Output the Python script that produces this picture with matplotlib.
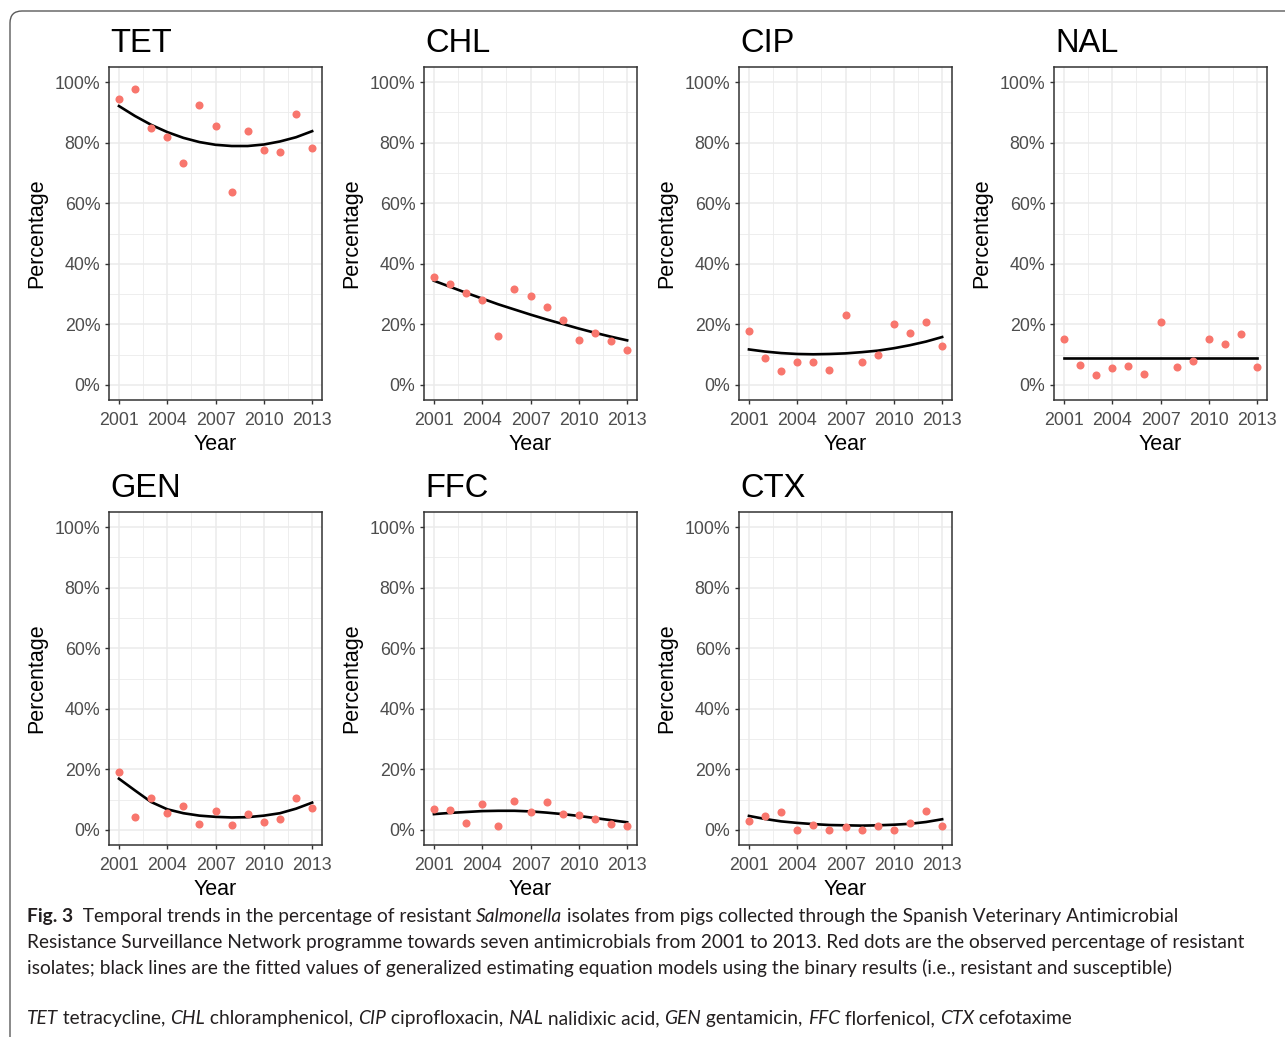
import matplotlib
matplotlib.use("Agg")
from matplotlib import pyplot as plt
from matplotlib.patches import FancyBboxPatch
from matplotlib.ticker import FuncFormatter, MultipleLocator, FixedLocator
from matplotlib.transforms import IdentityTransform

# observed percentage of resistant isolates and fitted GEE values
years = [2001, 2002, 2003, 2004, 2005, 2006, 2007, 2008, 2009, 2010, 2011, 2012, 2013]

tet_obs = [94.5, 97.8, 84.7, 81.8, 73.4, 92.4, 85.4, 63.6, 83.9, 77.5, 77.0, 89.6, 78.4]
tet_fit = [92.1, 88.8, 85.9, 83.5, 81.6, 80.2, 79.3, 78.9, 78.9, 79.4, 80.4, 81.8, 83.8]
chl_obs = [35.5, 33.3, 30.5, 28.0, 16.3, 31.6, 29.2, 25.7, 21.3, 14.9, 17.0, 14.4, 11.5]
chl_fit = [34.4, 32.4, 30.4, 28.5, 26.6, 24.9, 23.2, 21.6, 20.1, 18.6, 17.2, 15.9, 14.7]
cip_obs = [17.8, 8.9, 4.7, 7.4, 7.7, 4.8, 23.2, 7.6, 9.9, 20.1, 17.1, 20.9, 13.0]
cip_fit = [11.7, 11.0, 10.5, 10.2, 10.1, 10.2, 10.4, 10.8, 11.3, 12.1, 13.1, 14.3, 15.8]
nal_obs = [15.1, 6.4, 3.3, 5.7, 6.1, 3.7, 20.8, 6.0, 8.0, 15.0, 13.4, 16.7, 5.8]
nal_fit = [8.9, 8.9, 8.9, 8.9, 8.9, 8.9, 8.9, 8.9, 8.9, 8.9, 8.9, 8.9, 8.9]
gen_obs = [19.1, 4.4, 10.5, 5.7, 7.8, 1.8, 6.2, 1.5, 5.3, 2.5, 3.5, 10.4, 7.1]
gen_fit = [16.9, 13.0, 9.2, 6.8, 5.5, 4.7, 4.3, 4.1, 4.2, 4.7, 5.5, 7.0, 9.0]
ffc_obs = [6.8, 6.7, 2.3, 8.4, 1.4, 9.5, 6.0, 9.2, 5.2, 4.9, 3.7, 2.0, 1.2]
ffc_fit = [5.2, 5.6, 5.9, 6.2, 6.3, 6.3, 6.1, 5.7, 5.2, 4.6, 3.9, 3.2, 2.5]
ctx_obs = [2.9, 4.5, 5.9, 0.0, 1.5, 0.0, 1.1, 0.0, 1.4, 0.0, 2.4, 6.3, 1.3]
ctx_fit = [4.6, 3.6, 2.8, 2.3, 1.9, 1.6, 1.5, 1.4, 1.5, 1.7, 2.0, 2.6, 3.5]

panels = [("TET", tet_obs, tet_fit), ("CHL", chl_obs, chl_fit),
          ("CIP", cip_obs, cip_fit), ("NAL", nal_obs, nal_fit),
          ("GEN", gen_obs, gen_fit), ("FFC", ffc_obs, ffc_fit),
          ("CTX", ctx_obs, ctx_fit)]
year_ticks = [2001, 2004, 2007, 2010, 2013]

W, H = 1285, 1037
plt.rcParams['font.family'] = ['Liberation Sans', 'DejaVu Sans']
fig = plt.figure(figsize=(W / 100, H / 100), dpi=100)

# outer rounded frame of the figure box
frame = FancyBboxPatch((10, -30), 1300, H - 11 + 30,
                       boxstyle="round,pad=0,rounding_size=12",
                       transform=IdentityTransform(), facecolor='none',
                       edgecolor='#5a5a5a', linewidth=1.0)
fig.patches.append(frame)

lefts = [109.3, 424.3, 739.3, 1054.3]
tops = [67, 512]
aw, ah = 212.5, 333

for i, (name, obs, fit) in enumerate(panels):
    left = lefts[i % 4]
    top = tops[i // 4]
    ax = fig.add_axes([left / W, 1 - (top + ah) / H, aw / W, ah / H])
    ax.set_axisbelow(True)
    ax.grid(which='major', color='#EBEBEB', linewidth=1.1)
    ax.grid(which='minor', color='#EBEBEB', linewidth=0.6)
    ax.plot(years, fit, color='black', linewidth=1.9, zorder=3)
    ax.plot(years, obs, linestyle='', marker='o', markersize=5.8,
            color='#F8766D', markeredgewidth=0, zorder=4)
    ax.set_xlim(2000.4, 2013.6)
    ax.set_ylim(-5, 105)
    ax.set_xticks(year_ticks)
    ax.xaxis.set_minor_locator(FixedLocator([2002.5, 2005.5, 2008.5, 2011.5]))
    ax.yaxis.set_major_locator(MultipleLocator(20))
    ax.yaxis.set_minor_locator(FixedLocator([10, 30, 50, 70, 90]))
    ax.yaxis.set_major_formatter(FuncFormatter(lambda v, p: '%d%%' % v))
    ax.tick_params(which='major', length=3, width=1.0, color='#333333',
                   labelcolor='#4D4D4D', labelsize=12.8, pad=3.5)
    ax.tick_params(axis='x', which='major', pad=5.5)
    ax.tick_params(which='minor', length=0)
    for s in ax.spines.values():
        s.set_color('#333333')
        s.set_linewidth(1.1)
    ax.set_title(name, loc='left', fontsize=23.5, pad=11, x=0.005)
    ax.set_xlabel('Year', fontsize=15.5)
    ax.set_ylabel('Percentage', fontsize=15.5)
    ax.xaxis.set_label_coords(0.5, -0.102)
    ax.yaxis.set_label_coords(-0.29, 0.5)

# caption with mixed bold / italic runs
renderer = fig.canvas.get_renderer()
cap_font = 'Lato'
cap_size = 13.8


def run_width(txt, style, weight):
    a = fig.text(0, 0, '|' + txt + '|', fontsize=cap_size, family=cap_font,
                 style=style, weight=weight)
    b = fig.text(0, 0, '||', fontsize=cap_size, family=cap_font,
                 style=style, weight=weight)
    w = a.get_window_extent(renderer).width - b.get_window_extent(renderer).width
    a.remove()
    b.remove()
    return w


def rich_line(x, y, runs):
    for txt, style, weight in runs:
        fig.text(x / W, 1 - y / H, txt, fontsize=cap_size, family=cap_font,
                 style=style, weight=weight, va='baseline', color='#231F20')
        x += run_width(txt, style, weight)


rich_line(27, 922, [("Fig. 3", 'normal', 'bold'),
                    ("  Temporal trends in the percentage of resistant ", 'normal', 'normal'),
                    ("Salmonella", 'italic', 'normal'),
                    (" isolates from pigs collected through the Spanish Veterinary Antimicrobial",
                     'normal', 'normal')])
rich_line(27, 948, [("Resistance Surveillance Network programme towards seven antimicrobials from 2001 to 2013. "
                     "Red dots are the observed percentage of resistant", 'normal', 'normal')])
rich_line(27, 974, [("isolates; black lines are the fitted values of generalized estimating equation models "
                     "using the binary results (i.e., resistant and susceptible)", 'normal', 'normal')])
rich_line(27, 1024, [("TET", 'italic', 'normal'), (" tetracycline, ", 'normal', 'normal'),
                     ("CHL", 'italic', 'normal'), (" chloramphenicol, ", 'normal', 'normal'),
                     ("CIP", 'italic', 'normal'), (" ciprofloxacin, ", 'normal', 'normal'),
                     ("NAL", 'italic', 'normal'), (" nalidixic acid, ", 'normal', 'normal'),
                     ("GEN", 'italic', 'normal'), (" gentamicin, ", 'normal', 'normal'),
                     ("FFC", 'italic', 'normal'), (" florfenicol, ", 'normal', 'normal'),
                     ("CTX", 'italic', 'normal'), (" cefotaxime", 'normal', 'normal')])

fig.savefig("out.png", dpi=100)
